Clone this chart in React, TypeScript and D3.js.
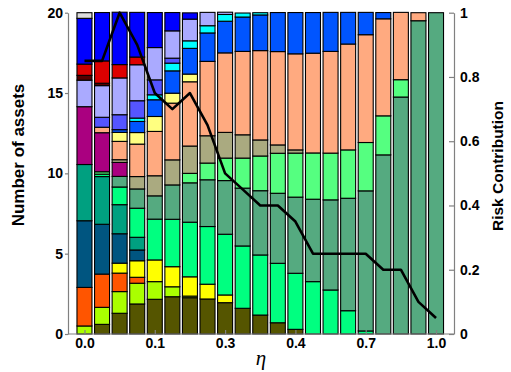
import { useEffect, useRef } from 'react'
import * as d3 from 'd3'

// eta values shown on the x axis (one bar per eta step, label every 4th)
const ETA = ['0.0', '', '', '', '0.1', '', '', '', '0.3', '', '', '', '0.4', '', '', '', '0.7', '', '', '', '1.0']
const Y_TICKS = [0, 5, 10, 15, 20]
const RC_TICKS = [0, 0.2, 0.4, 0.6, 0.8, 1]

// risk contribution (right axis), one value per bar
const RISK = [0.85, 0.85, 1.0, 0.9, 0.75, 0.70, 0.75, 0.65, 0.50, 0.45, 0.40, 0.40, 0.35, 0.25, 0.25, 0.25, 0.25, 0.20, 0.20, 0.10, 0.05]

// assets, bottom of stack first
const olive       = [0, 0.6, 1.29, 1.87, 2.16, 2.32, 2.26, 2.18, 1.95, 1.6, 1.18, 0.7, 0.29, 0, 0, 0, 0, 0, 0, 0, 0]
const yellowgreen = [0.5, 1.06, 1.35, 1.29, 1.1, 0.62, 0.1, 0, 0, 0, 0, 0, 0, 0, 0, 0, 0, 0, 0, 0, 0]
const orange      = [2.4, 2.07, 1.15, 0.37, 0, 0, 0, 0, 0, 0, 0, 0, 0, 0, 0, 0, 0, 0, 0, 0, 0]
const yellow      = [0, 0, 0.62, 1.03, 1.35, 1.25, 1.2, 0.92, 0.48, 0, 0, 0, 0, 0, 0, 0, 0, 0, 0, 0, 0]
const darkblue    = [4.15, 3.1, 1.83, 0.67, 0, 0, 0, 0, 0, 0, 0, 0, 0, 0, 0, 0, 0, 0, 0, 0, 0]
const teal        = [3.5, 2.97, 1.81, 0.79, 0, 0, 0, 0, 0, 0, 0, 0, 0, 0, 0, 0, 0, 0, 0, 0, 0]
const springgreen = [0, 0.15, 1.1, 1.81, 2.54, 2.95, 3.4, 3.59, 3.78, 3.88, 3.74, 3.7, 3.49, 3.26, 2.74, 1.45, 0.19, 0, 0, 0, 0]
const seagreen    = [0, 0, 0.66, 1.2, 1.45, 2.14, 2.45, 2.91, 3.34, 3.6, 4.0, 4.36, 4.74, 5.13, 5.61, 7.0, 8.72, 11.15, 14.75, 19.5, 20]
const brightgreen = [0, 0.15, 0, 0, 0, 0, 0.59, 1.04, 1.4, 1.87, 2.16, 2.49, 2.74, 2.88, 2.91, 3.01, 3.01, 2.43, 1.08, 0, 0]
const purple      = [3.6, 2.43, 0.87, 0, 0, 0, 0, 0, 0, 0, 0, 0, 0, 0, 0, 0, 0, 0, 0, 0, 0]
const khaki       = [0, 0, 0.17, 0.77, 1.25, 1.56, 1.7, 1.7, 1.6, 1.45, 1.0, 0.52, 0.2, 0, 0, 0, 0, 0, 0, 0, 0]
const salmon      = [0, 0.34, 1.14, 2.02, 2.76, 3.53, 4.0, 4.63, 4.95, 5.19, 5.56, 5.81, 5.98, 6.21, 6.33, 6.59, 6.71, 6.04, 4.19, 0.5, 0]
const lightyellow = [0, 0, 0.56, 0.72, 0.93, 0.62, 0.48, 0, 0, 0, 0, 0, 0, 0, 0, 0, 0, 0, 0, 0, 0]
const azure       = [0, 0, 0.17, 0.69, 1.04, 1.39, 1.6, 1.77, 1.97, 2.14, 2.22, 2.43, 2.57, 2.53, 2.43, 1.97, 1.39, 0.39, 0, 0, 0]
const cyan        = [0, 0, 0, 0.21, 0.31, 0.48, 0.47, 0.45, 0.42, 0.25, 0.14, 0, 0, 0, 0, 0, 0, 0, 0, 0, 0]
const slateblue   = [0, 0.62, 0.93, 1.08, 0.93, 0.31, 0, 0, 0, 0, 0, 0, 0, 0, 0, 0, 0, 0, 0, 0, 0]
const lavender    = [1.65, 1.97, 2.29, 2.24, 2.01, 1.7, 1.35, 0.83, 0.14, 0, 0, 0, 0, 0, 0, 0, 0, 0, 0, 0, 0]
const darkred     = [0.3, 0.15, 0, 0, 0, 0, 0, 0, 0, 0, 0, 0, 0, 0, 0, 0, 0, 0, 0, 0, 0]
const red         = [0.7, 1.39, 0.83, 0.48, 0, 0, 0, 0, 0, 0, 0, 0, 0, 0, 0, 0, 0, 0, 0, 0, 0]
const blue        = [2.85, 3.01, 3.26, 2.78, 2.18, 1.14, 0.39, 0, 0, 0, 0, 0, 0, 0, 0, 0, 0, 0, 0, 0, 0]
const gray        = [0.35, 0, 0, 0, 0, 0, 0, 0, 0, 0, 0, 0, 0, 0, 0, 0, 0, 0, 0, 0, 0]

const SERIES: [string, number[]][] = [
  ['olive', olive], ['yellowgreen', yellowgreen], ['orange', orange], ['yellow', yellow],
  ['darkblue', darkblue], ['teal', teal], ['springgreen', springgreen], ['seagreen', seagreen],
  ['brightgreen', brightgreen], ['purple', purple], ['khaki', khaki], ['salmon', salmon],
  ['lightyellow', lightyellow], ['azure', azure], ['cyan', cyan], ['slateblue', slateblue],
  ['lavender', lavender], ['darkred', darkred], ['red', red], ['blue', blue], ['gray', gray],
]

const COLORS: Record<string, string> = {
  olive: '#555500', yellowgreen: '#aaff00', orange: '#ff5500', yellow: '#ffff00',
  darkblue: '#005580', teal: '#00a080', springgreen: '#00ff80', seagreen: '#55aa80',
  brightgreen: '#55ff80', purple: '#aa0080', khaki: '#aaaa80', salmon: '#ffaa80',
  lightyellow: '#ffff80', azure: '#0055ff', cyan: '#00ffff', slateblue: '#5555ff',
  lavender: '#aaaaff', darkred: '#550000', red: '#dd0000', blue: '#0000ff', gray: '#dddddd',
}

const FONT = '"Liberation Sans", Arial, sans-serif'

export default function App() {
  const svgRef = useRef<SVGSVGElement>(null)

  useEffect(() => {
    document.body.style.margin = '0'
    const svgEl = svgRef.current
    if (!svgEl) return
    const svg = d3.select(svgEl)
    svg.selectAll('*').remove()

    const left = 68, right = 454, top = 12.7, bottom = 334
    const idx = ETA.map((_, i) => i)

    const x = d3.scaleBand<number>().domain(idx).range([71.7, 448.8]).paddingInner(0.1465).paddingOuter(0.3)
    const y = d3.scaleLinear().domain([0, 20]).range([bottom, top])
    const yR = d3.scaleLinear().domain([0, 1]).range([bottom, top])

    const rows = idx.map(i => {
      const r: Record<string, number> = {}
      SERIES.forEach(([k, v]) => { r[k] = v[i] })
      return r
    })
    const stacked = d3.stack<Record<string, number>>().keys(SERIES.map(s => s[0]))(rows)

    stacked.forEach(layer => {
      svg.append('g')
        .selectAll('rect')
        .data(layer.map((d, i) => ({ d, i })).filter(p => p.d[1] - p.d[0] > 0.001))
        .enter().append('rect')
        .attr('x', p => x(p.i)!)
        .attr('width', x.bandwidth())
        .attr('y', p => y(p.d[1]))
        .attr('height', p => y(p.d[0]) - y(p.d[1]))
        .attr('fill', COLORS[layer.key])
        .attr('stroke', '#000').attr('stroke-width', 1.1)
    })

    const styleAxis = (ax: d3.Selection<SVGGElement, unknown, null, undefined>) => {
      ax.select('.domain').attr('stroke', '#808080').attr('stroke-width', 1.2)
      ax.selectAll('.tick line').attr('stroke', '#808080').attr('stroke-width', 1.2)
      ax.selectAll('.tick text').attr('font-family', FONT).attr('font-weight', 700)
        .attr('font-size', 14).attr('fill', '#000')
    }

    svg.append('g')
      .attr('transform', `translate(${left},0)`)
      .call(d3.axisLeft(y).tickValues(Y_TICKS).tickSize(3).tickSizeOuter(0).tickPadding(2))
      .call(styleAxis)

    svg.append('g')
      .attr('transform', `translate(${right},0)`)
      .call(d3.axisRight(yR).tickValues(RC_TICKS).tickSize(-5).tickSizeOuter(0).tickPadding(6)
        .tickFormat(v => (+v === 0 || +v === 1) ? String(v) : d3.format('.1f')(+v)))
      .call(styleAxis)

    svg.append('line')
      .attr('x1', left).attr('x2', right).attr('y1', bottom).attr('y2', bottom)
      .attr('stroke', '#808080').attr('stroke-width', 1.2)

    const xTickScale = d3.scaleLinear().domain([0, 20]).range([x(0)! + x.bandwidth() / 2, x(20)! + x.bandwidth() / 2])
    svg.append('g')
      .attr('transform', `translate(0,${bottom})`)
      .call(d3.axisBottom(xTickScale).tickValues(idx.filter(i => ETA[i] !== ''))
        .tickFormat(v => ETA[+v]).tickSize(-4).tickSizeOuter(0).tickPadding(4))
      .call(ax => ax.select('.domain').remove())
      .call(styleAxis)

    const line = d3.line<number>()
      .x((_, i) => x(i)! + x.bandwidth() / 2)
      .y(v => yR(v))
    svg.append('path')
      .datum(RISK)
      .attr('d', line)
      .attr('fill', 'none').attr('stroke', '#000').attr('stroke-width', 2.6)
      .attr('stroke-linejoin', 'round')

    svg.append('text')
      .attr('transform', 'translate(18,155) rotate(-90)')
      .attr('text-anchor', 'middle').attr('dominant-baseline', 'central')
      .attr('font-family', FONT).attr('font-weight', 700).attr('font-size', 17)
      .text('Number of assets')
    svg.append('text')
      .attr('transform', 'translate(497,166) rotate(-90)')
      .attr('text-anchor', 'middle').attr('dominant-baseline', 'central')
      .attr('font-family', FONT).attr('font-weight', 700).attr('font-size', 15.5)
      .text('Risk Contribution')
    svg.append('text')
      .attr('x', 261).attr('y', 365)
      .attr('text-anchor', 'middle')
      .attr('font-family', '"Liberation Serif", "DejaVu Serif", serif').attr('font-style', 'italic')
      .attr('font-size', 21)
      .text('η')
  }, [])

  return <svg ref={svgRef} width={511} height={372} style={{ display: 'block', background: '#fff' }} />
}
